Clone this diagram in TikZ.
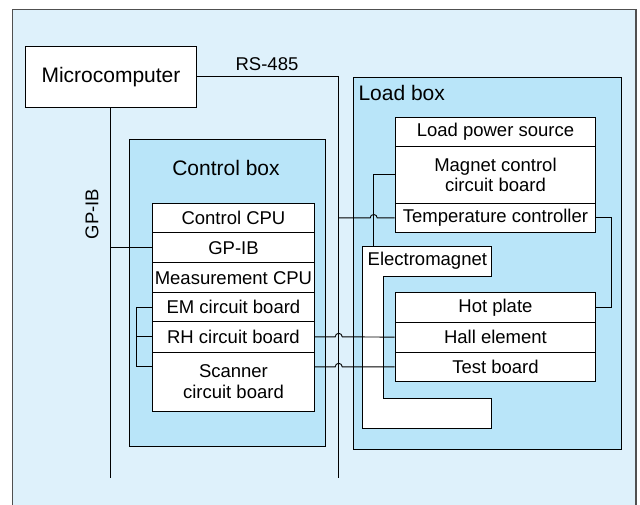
\documentclass[tikz,border=0pt]{standalone}
\usepackage{fontspec}
\setmainfont{Liberation Sans}
\usetikzlibrary{calc}
\definecolor{outerfill}{HTML}{DEF1FB}
\definecolor{boxfill}{HTML}{B9E5F9}
\definecolor{outerline}{HTML}{505050}
\newcommand\fsSmall{\fontsize{18.5}{20.5}\selectfont}
\newcommand\fsBig{\fontsize{21}{23}\selectfont}
\tikzset{
  wire/.style={draw=black, line width=0.9pt},
  cell/.style={draw=black, fill=white, line width=0.9pt, inner sep=0pt, anchor=north west, font=\fsSmall, align=center},
  housing/.style={draw=black, fill=boxfill, line width=0.9pt, inner sep=0pt, anchor=north west},
  lbl/.style={inner sep=0pt},
}
\begin{document}
\begin{tikzpicture}[x=1pt,y=-1pt]
\useasboundingbox (0,0) rectangle (640,505);
\clip (0,0) rectangle (640,505);
% outer panel
\path[fill=outerfill, draw=outerline, line width=1.1pt] (12.7,9.3) rectangle (636,530);

% housings
\node[housing, minimum width=195.4pt, minimum height=307pt] (ctrlbox) at (129.3,138.7) {};
\node[housing, minimum width=268.3pt, minimum height=372.5pt] (loadbox) at (352.7,76.7) {};
\node[lbl, font=\fsBig] (ctrltitle) at (226,168) {Control box};
\node[lbl, font=\fsBig, anchor=west] (loadtitle) at (358.3,92.7) {Load box};

% microcomputer
\node[cell, font=\fsBig, minimum width=171pt, minimum height=61.6pt] (micro) at (25,45.7) {Microcomputer};

% electromagnet (C shape)
\path[fill=white, draw=black, line width=0.9pt]
  (362.7,246.7) -- (491.7,246.7) -- (491.7,276.7) -- (383.7,276.7) -- (383.7,398.3)
  -- (491.7,398.3) -- (491.7,428.3) -- (362.7,428.3) -- cycle;
\node[lbl, font=\fsSmall, anchor=west] (emlabel) at (367.5,261) {Electromagnet};
\coordinate (emtop) at (373.7,246.7);

% control box stack
\node[cell, minimum width=162.6pt, minimum height=29.6pt] (ccpu) at (151.7,202.7) {Control CPU};
\node[cell, minimum width=162.6pt, minimum height=30pt] (gpib) at (151.7,232.3) {GP-IB};
\node[cell, minimum width=162.6pt, minimum height=30pt] (mcpu) at (151.7,262.3) {Measurement CPU};
\node[cell, minimum width=162.6pt, minimum height=28.7pt] (em) at (151.7,292.3) {EM circuit board};
\node[cell, minimum width=162.6pt, minimum height=30.7pt] (rh) at (151.7,321) {RH circuit board};
\node[cell, minimum width=162.6pt, minimum height=58.8pt] (scan) at (151.7,351.7) {Scanner\\circuit board};

% load box upper stack
\node[cell, minimum width=200.6pt, minimum height=29.3pt] (lps) at (394.7,117) {Load power source};
\node[cell, minimum width=200.6pt, minimum height=56.4pt] (mag) at (394.7,146.3) {Magnet control\\circuit board};
\node[cell, minimum width=200.6pt, minimum height=29.6pt] (temp) at (394.7,202.7) {Temperature controller};

% load box lower stack
\node[cell, minimum width=200.6pt, minimum height=29.4pt] (hot) at (394.7,292.3) {Hot plate};
\node[cell, minimum width=200.6pt, minimum height=30pt] (hall) at (394.7,321.7) {Hall element};
\node[cell, minimum width=200.6pt, minimum height=29.3pt] (test) at (394.7,351.7) {Test board};

% bus lines
\coordinate (rsbot) at (338.7,478.3);
\coordinate (gpbot) at (110.3,478.3);
\coordinate (trc) at (611.3,0);
\coordinate (bk) at (136.7,0);
\draw[wire] (micro.east) -- (micro.east -| rsbot) -- (rsbot);
\node[lbl, font=\fsSmall] (rslabel) at (267,64) {RS-485};
\draw[wire] (micro.south -| gpbot) -- (gpbot);
\node[lbl, font=\fsSmall, rotate=90] (gplabel) at (92,214) {GP-IB};
\draw[wire] (gpib.west) -- (gpib.west -| gpbot);

% temperature controller connections
\draw[wire] (temp.west -| rsbot) -- ($(temp.west -| emtop)+(-3.5pt,0pt)$)
  arc[start angle=180, end angle=0, radius=3.5pt] -- (temp.west);
\draw[wire] (temp.east) -| (hot.east -| trc) -- (hot.east);

% magnet control to electromagnet
\draw[wire] (mag.west) -| (emtop);

% control box to load box
\draw[wire] (rh.east) -- ($(rh.east -| rsbot)+(-3.5pt,0pt)$)
  arc[start angle=180, end angle=0, radius=3.5pt] -- (hall.west);
\draw[wire] (test.west -| scan.east) -- ($(test.west -| rsbot)+(-3.5pt,0pt)$)
  arc[start angle=180, end angle=0, radius=3.5pt] -- (test.west);

% bracket on the left of the circuit boards
\draw[wire] (em.west) -| (bk |- test.west) -- (test.west -| scan.west);
\draw[wire] (rh.west) -- (rh.west -| bk);
\end{tikzpicture}
\end{document}
